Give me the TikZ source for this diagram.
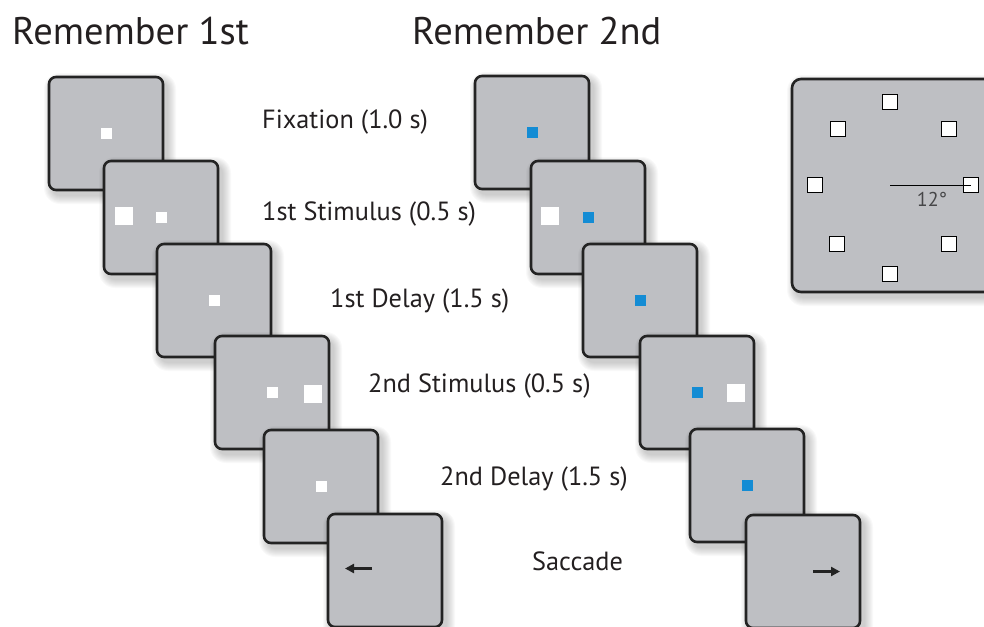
\documentclass[tikz,border=0pt]{standalone}
\usepackage{fontspec}
\setmainfont{PT Sans}
\usetikzlibrary{arrows.meta}
\definecolor{scr}{RGB}{190,191,195}
\definecolor{edge}{RGB}{35,35,35}
\definecolor{txt}{RGB}{35,31,32}
\definecolor{fixblue}{RGB}{20,140,212}
\definecolor{degtxt}{RGB}{70,70,72}
\tikzset{
  screen/.style={draw=edge, line width=2.6pt, fill=scr, rounded corners=7pt,
    minimum width=114pt, minimum height=113pt, inner sep=0pt},
  wdot/.style={fill=white, minimum size=11pt, inner sep=0pt},
  bigsq/.style={fill=white, minimum size=18pt, inner sep=0pt},
  bdot/.style={fill=fixblue, minimum size=11pt, inner sep=0pt},
  locsq/.style={draw=black, fill=white, line width=0.9pt, minimum size=15pt, inner sep=0pt},
  lab/.style={anchor=base west, text=txt, font=\fontsize{26.3}{29}\selectfont, inner sep=0pt},
  ttl/.style={anchor=base west, text=txt, font=\fontsize{38.5}{42}\selectfont, inner sep=0pt},
  sacarrow/.style={draw=edge, line width=2.6pt, -{Triangle[length=9pt,width=9pt]}},
}
\newcommand{\shad}[4]{%
  \foreach \k in {1,...,9}{%
    \pgfmathsetmacro\rr{7+\k}%
    \fill[black, opacity=0.022, rounded corners=\rr pt]
      ({#1-#3/2-\k+4},{#2-#4/2-\k+5}) rectangle ({#1+#3/2+\k+4},{#2+#4/2+\k+5});
  }}
\newcommand{\scrn}[3]{\shad{#2}{#3}{114}{113}\node[screen] (#1) at (#2,#3) {};}
\begin{document}
\begin{tikzpicture}[x=1pt,y=-1pt]
\useasboundingbox (0,0) rectangle (984,626);
\clip (0,0) rectangle (984,626);

% titles
\node[ttl] (t1) at (12,45) {Remember 1st};
\node[ttl] (t2) at (412,45) {Remember 2nd};

% right panel
\shad{896}{185.5}{208}{213}
\node[screen, rounded corners=9pt, minimum width=208pt, minimum height=213pt] (panel) at (896,185.5) {};
\node[locsq] (s90) at (889.5,101.5) {};
\node[locsq] (s135) at (837.5,129) {};
\node[locsq] (s45) at (949,129) {};
\node[locsq] (s180) at (814.5,185) {};
\node[locsq] (s0) at (970.5,185) {};
\node[locsq] (s225) at (836.5,244) {};
\node[locsq] (s315) at (949,244) {};
\node[locsq] (s270) at (889.5,273.5) {};
\coordinate (ctr) at (890,185);
\draw[line width=1pt, black] (ctr) -- (s0.center);
\node[text=degtxt, font=\fontsize{20}{22}\selectfont, inner sep=0pt] (deg) at (932,199) {12°};

% left column (Remember 1st)
\scrn{L1}{106}{133.5}
\node[wdot] (L1f) at (L1.center) {};
\scrn{L2}{161}{217.5}
\node[bigsq] (L2s) at ([xshift=-37pt,yshift=1.5pt]L2.center) {};
\node[wdot] (L2f) at (L2.center) {};
\scrn{L3}{214}{300.5}
\node[wdot] (L3f) at (L3.center) {};
\scrn{L4}{272}{392.5}
\node[wdot] (L4f) at (L4.center) {};
\node[bigsq] (L4s) at ([xshift=41pt,yshift=-1pt]L4.center) {};
\scrn{L5}{321}{486.5}
\node[wdot] (L5f) at (L5.center) {};
\scrn{L6}{385}{570.5}
\coordinate (L6a) at ([xshift=-13pt,yshift=2pt]L6.center);
\coordinate (L6b) at ([xshift=-40pt,yshift=2pt]L6.center);
\draw[sacarrow] (L6a) -- (L6b);

% right column (Remember 2nd)
\scrn{R1}{532}{132.5}
\node[bdot] (R1f) at (R1.center) {};
\scrn{R2}{588}{217.5}
\node[bigsq] (R2s) at ([xshift=-38pt,yshift=2pt]R2.center) {};
\node[bdot] (R2f) at (R2.center) {};
\scrn{R3}{640}{300.5}
\node[bdot] (R3f) at (R3.center) {};
\scrn{R4}{697}{392.5}
\node[bdot] (R4f) at (R4.center) {};
\node[bigsq] (R4s) at ([xshift=39pt]R4.center) {};
\scrn{R5}{747}{485.5}
\node[bdot] (R5f) at (R5.center) {};
\scrn{R6}{803}{571.5}
\coordinate (R6a) at ([xshift=10pt]R6.center);
\coordinate (R6b) at ([xshift=37pt]R6.center);
\draw[sacarrow] (R6a) -- (R6b);

% phase labels
\node[lab] (p1) at (262,128) {Fixation (1.0 s)};
\node[lab] (p2) at (262,220) {1st Stimulus (0.5 s)};
\node[lab] (p3) at (330,307) {1st Delay (1.5 s)};
\node[lab] (p4) at (368,392) {2nd Stimulus (0.5 s)};
\node[lab] (p5) at (440,485) {2nd Delay (1.5 s)};
\node[lab] (p6) at (532,570) {Saccade};
\end{tikzpicture}
\end{document}
